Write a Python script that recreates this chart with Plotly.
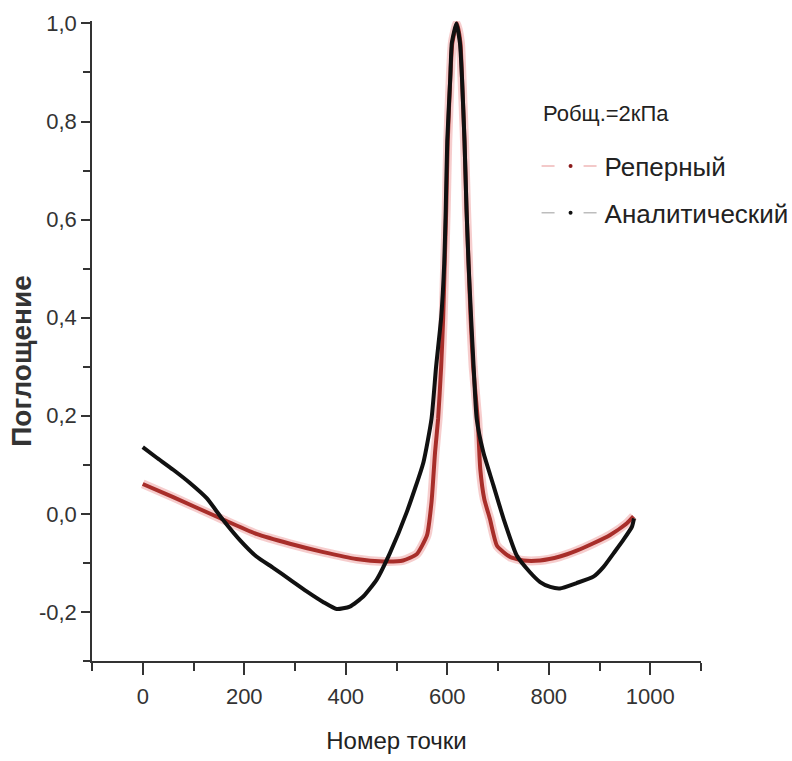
import plotly.graph_objects as go

# ---- data ----
x_ref = [0, 60, 155, 224, 290, 356, 421, 474, 513, 540, 560, 569, 576, 582, 588, 592, 595, 598,
         601, 606, 610, 619, 626, 629, 634, 638, 642, 646, 651, 660, 665, 673, 684, 698, 724,
         750, 783, 822, 855, 888, 921, 954, 967]
y_ref = [0.061, 0.034, -0.010, -0.041, -0.061, -0.078, -0.092, -0.097, -0.095, -0.082, -0.044,
         0.024, 0.126, 0.194, 0.30, 0.40, 0.51, 0.62, 0.76, 0.89, 0.96, 1.0, 0.96, 0.89, 0.76,
         0.62, 0.51, 0.40, 0.30, 0.194, 0.092, 0.03, -0.010, -0.065, -0.088, -0.095, -0.095,
         -0.087, -0.075, -0.060, -0.043, -0.019, -0.005]

x_an = [0, 27, 60, 93, 126, 158, 191, 224, 257, 290, 323, 356, 382, 408, 435, 461, 487, 520,
        553, 569, 578, 588, 594, 597, 600, 606, 609, 618, 625, 629, 634, 638, 642, 647, 652,
        658, 671, 691, 711, 737, 763, 783, 803, 822, 855, 888, 908, 928, 947, 964, 968]
y_an = [0.136, 0.115, 0.090, 0.063, 0.032, -0.012, -0.053, -0.087, -0.110, -0.134, -0.158,
        -0.180, -0.194, -0.189, -0.168, -0.134, -0.080, 0.003, 0.105, 0.194, 0.30, 0.40, 0.51,
        0.62, 0.76, 0.89, 0.96, 1.0, 0.96, 0.89, 0.76, 0.62, 0.51, 0.40, 0.30, 0.194, 0.126,
        0.058, -0.010, -0.085, -0.119, -0.139, -0.149, -0.152, -0.141, -0.128, -0.108, -0.080,
        -0.053, -0.026, -0.009]

series_names = ["Реперный", "Аналитический"]
legend_title = "Робщ.=2кПа"
x_title = "Номер точки"
y_title = "Поглощение"
x_tickvals = [0, 200, 400, 600, 800, 1000]
x_ticktext = ["0", "200", "400", "600", "800", "1000"]
y_tickvals = [-0.2, 0.0, 0.2, 0.4, 0.6, 0.8, 1.0]
y_ticktext = ["-0,2", "0,0", "0,2", "0,4", "0,6", "0,8", "1,0"]

NARROW = "Liberation Sans Narrow, Arial Narrow, Liberation Sans, Arial, sans-serif"
REG = "Liberation Sans, Arial, sans-serif"

fig = go.Figure()

# red halo + red line
fig.add_trace(go.Scatter(x=x_ref, y=y_ref, mode="lines", showlegend=False, hoverinfo="skip",
                         line=dict(color="rgba(225,90,90,0.30)", width=9, shape="spline", smoothing=0.5)))
fig.add_trace(go.Scatter(x=x_ref, y=y_ref, mode="lines", showlegend=False, name=series_names[0],
                         line=dict(color="#a82e2a", width=4, shape="spline", smoothing=0.5)))
# black line
fig.add_trace(go.Scatter(x=x_an, y=y_an, mode="lines", showlegend=False, name=series_names[1],
                         line=dict(color="#111111", width=4, shape="spline", smoothing=0.5)))

# legend entries
fig.add_trace(go.Scatter(x=[None], y=[None], mode="lines+markers", name=series_names[0],
                         legendgroup="a",
                         line=dict(color="#f0b8b8", width=1.5, dash="13px,29px,13px"),
                         marker=dict(color="#8b1a1a", size=4)))
fig.add_trace(go.Scatter(x=[None], y=[None], mode="lines+markers", name=series_names[1],
                         legendgroup="b",
                         line=dict(color="#bdbdbd", width=1.5, dash="13px,29px,13px"),
                         marker=dict(color="#111111", size=4)))

fig.add_annotation(text=legend_title, xref="paper", yref="paper", x=0.737, y=0.856,
                   xanchor="left", yanchor="middle", showarrow=False,
                   font=dict(family=REG, size=22, color="#222"))
fig.add_annotation(text=y_title, xref="paper", yref="paper", x=-0.115, y=0.469,
                   xanchor="center", yanchor="middle", showarrow=False, textangle=-90,
                   font=dict(family=REG, size=28, color="#333", weight="bold"))

fig.update_layout(
    width=792, height=761,
    margin=dict(l=92, r=91, t=21, b=100, autoexpand=False),
    paper_bgcolor="white", plot_bgcolor="white",
    legend=dict(x=0.730, y=0.81, xanchor="left", yanchor="top",
                font=dict(family=REG, size=26, color="#222"),
                itemwidth=58, traceorder="grouped", tracegroupgap=10,
                bgcolor="rgba(0,0,0,0)"),
    xaxis=dict(range=[-100, 1100], showgrid=False, zeroline=False,
               showline=True, linecolor="#333", linewidth=1.5,
               ticks="outside", ticklen=12, tickwidth=1.5, tickcolor="#333",
               tickvals=x_tickvals, ticktext=x_ticktext, ticklabelstandoff=3,
               minor=dict(dtick=100, ticks="outside", ticklen=8, tickwidth=1.5, tickcolor="#333"),
               tickfont=dict(family=NARROW, size=22, color="#333"),
               title=dict(text=x_title, font=dict(family=NARROW, size=24, color="#222"), standoff=24)),
    yaxis=dict(range=[-0.3, 1.005], showgrid=False, zeroline=False,
               showline=True, linecolor="#333", linewidth=1.5,
               ticks="outside", ticklen=9, tickwidth=1.5, tickcolor="#333",
               tickvals=y_tickvals, ticktext=y_ticktext,
               minor=dict(dtick=0.1, tick0=0, ticks="outside", ticklen=7, tickwidth=1.5, tickcolor="#333"),
               tickfont=dict(family=NARROW, size=22, color="#333")),
)

fig.write_html("out.html")
